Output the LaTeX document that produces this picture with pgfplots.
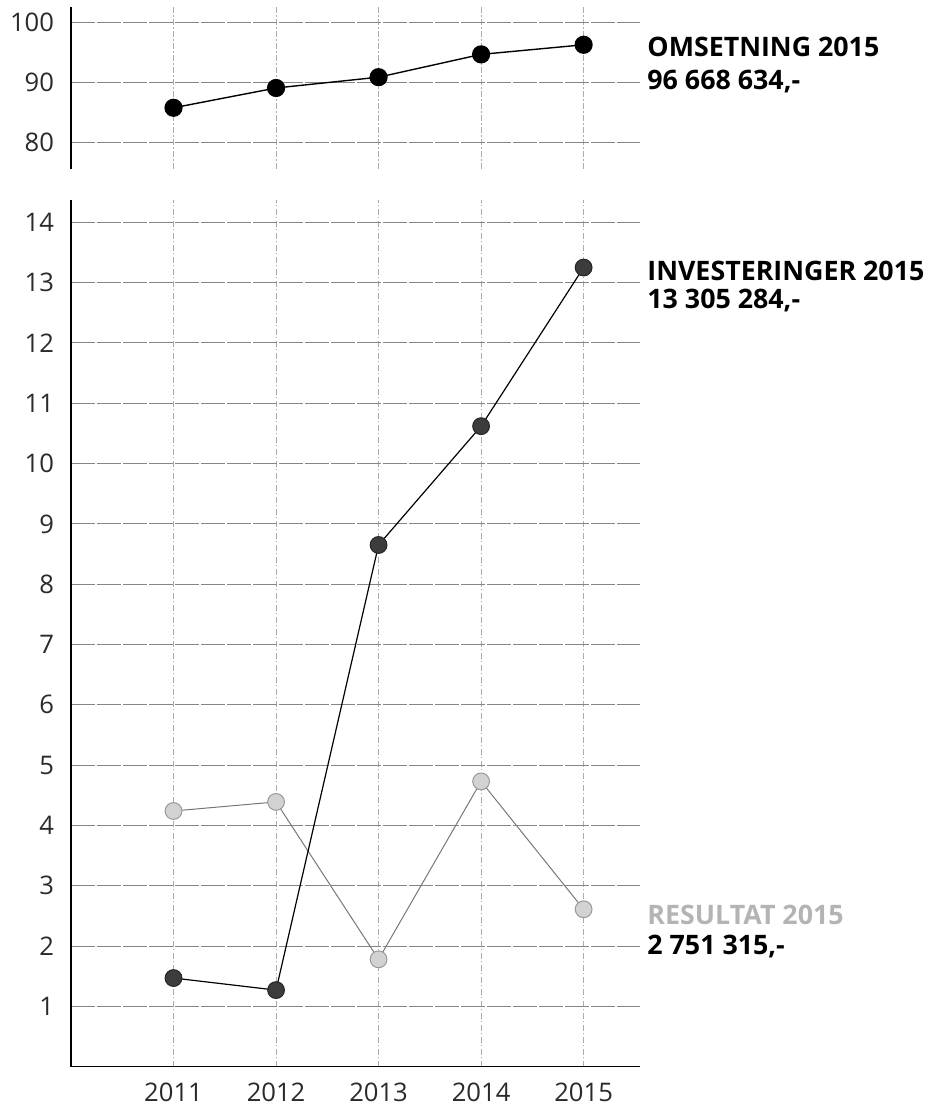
\documentclass[border=0pt]{standalone}
\usepackage{fontspec}
\setmainfont{Open Sans}
\usepackage{pgfplots}
\pgfplotsset{compat=1.18}
\definecolor{invcol}{HTML}{3C3C3C}
\definecolor{rescol}{HTML}{D2D2D2}
\definecolor{resline}{HTML}{777777}
\definecolor{restext}{HTML}{B4B4B4}
\definecolor{ticktext}{HTML}{2A2A2A}
\tikzset{bold/.style={font=\fontsize{13.4}{15}\selectfont\bfseries, anchor=west, inner sep=0pt, xshift=3.5pt}}
\pgfplotsset{
  mybase/.style={
    scale only axis,
    width=284.5pt,
    xmin=2010, xmax=2015.55,
    xtick={2011,2012,2013,2014,2015},
    x tick label style={/pgf/number format/1000 sep={}},
    /pgf/number format/assume math mode=true,
    tick label style={font=\fontsize{12.8}{14}\selectfont, text=ticktext},
    major tick length=0pt,
    grid=major,
    x grid style={gray!65, line width=0.45pt, dash pattern=on 3pt off 1.2pt on 0.6pt off 1.2pt},
    y grid style={gray!95, line width=0.5pt, dash pattern=on 12pt off 1pt},
    axis x line*=bottom,
    axis y line*=left,
    axis line style={black, line width=0.6pt, -},
    yticklabel style={xshift=-5pt},
    xticklabel style={yshift=-4.5pt},
    clip=false,
  },
}
\begin{document}
\begin{tikzpicture}
\useasboundingbox (0,0) rectangle (470.5pt,553.5pt);
% top axis: omsetning
\begin{axis}[mybase,
  at={(35.5pt,469pt)}, anchor=south west,
  height=81pt,
  ymin=75.6, ymax=102.6,
  ytick={80,90,100},
  xticklabels={},
  x axis line style={draw=none},
]
\addplot[black, line width=0.7pt, mark=*, mark size=4.2pt, mark options={fill=black, draw=black}]
  coordinates {(2011,85.8) (2012,89.1) (2013,90.9) (2014,94.7) (2015,96.3)};
\node[bold] at (axis cs:2015.55,95.95) {OMSETNING 2015};
\node[bold] at (axis cs:2015.55,90.1) {96 668 634,-};
\end{axis}
% bottom axis: investeringer and resultat
\begin{axis}[mybase,
  at={(35.5pt,20.15pt)}, anchor=south west,
  height=433.35pt,
  ymin=0, ymax=14.37,
  ytick={1,2,...,14},
]
\addplot[resline, line width=0.5pt, mark=*, mark size=4.2pt, mark options={fill=rescol, draw=gray!80, line width=0.5pt}]
  coordinates {(2011,4.24) (2012,4.39) (2013,1.78) (2014,4.73) (2015,2.61)};
\addplot[black, line width=0.6pt, mark=*, mark size=4.2pt, mark options={fill=invcol, draw=black!85, line width=0.5pt}]
  coordinates {(2011,1.47) (2012,1.27) (2013,8.65) (2014,10.62) (2015,13.25)};
\node[bold] at (axis cs:2015.55,13.19) {INVESTERINGER 2015};
\node[bold] at (axis cs:2015.55,12.71) {13 305 284,-};
\node[bold, text=restext] at (axis cs:2015.55,2.52) {RESULTAT 2015};
\node[bold] at (axis cs:2015.55,1.99) {2 751 315,-};
\end{axis}
\end{tikzpicture}
\end{document}
